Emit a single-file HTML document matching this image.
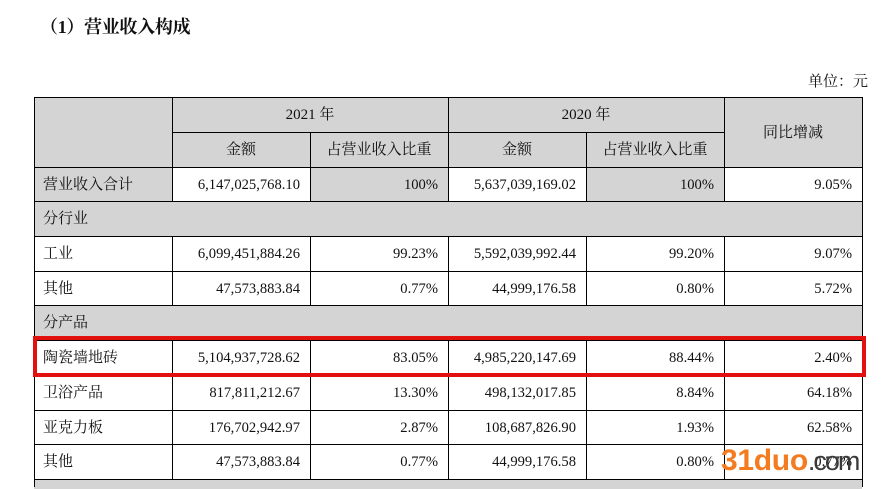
<!DOCTYPE html>
<html><head><meta charset="utf-8">
<style>
html,body{margin:0;padding:0;background:#fff;}
body{width:884px;height:484px;position:relative;overflow:hidden;font-family:"Liberation Serif","Noto Serif CJK SC",serif;color:#111;}
.a{position:absolute;}
.g{position:absolute;background:#d4d4d4;}
.h{position:absolute;height:1px;background:#000;}
.v{position:absolute;width:1px;background:#000;}
.c{position:absolute;display:flex;align-items:center;box-sizing:border-box;font-size:15px;white-space:nowrap;line-height:1;padding-top:2px;}
.l{justify-content:flex-start;padding-left:9px;}
.r{justify-content:flex-end;padding-right:10px;font-size:14.6px;}
.m{justify-content:center;}
</style></head><body>
<div class="a" style="left:40px;top:15px;font-size:18px;font-weight:bold;font-family:'Liberation Serif','Noto Serif CJK SC',serif;line-height:24px;letter-spacing:-0.3px;">（1）营业收入构成</div>
<div class="a" style="left:808px;top:73px;font-size:15px;line-height:18px;">单位：元</div>

<!-- gray backgrounds -->
<div class="g" style="left:34px;top:97px;width:828px;height:70px;"></div>
<div class="g" style="left:34px;top:167px;width:138px;height:34px;"></div>
<div class="g" style="left:310px;top:167px;width:138px;height:34px;"></div>
<div class="g" style="left:586px;top:167px;width:138px;height:34px;"></div>
<div class="g" style="left:34px;top:201px;width:828px;height:35px;"></div>
<div class="g" style="left:34px;top:305px;width:828px;height:35px;"></div>
<div class="g" style="left:34px;top:479px;width:828px;height:10px;"></div>

<!-- horizontal lines -->
<div class="h" style="left:34px;top:97px;width:829px;"></div>
<div class="h" style="left:172px;top:132px;width:552px;"></div>
<div class="h" style="left:34px;top:167px;width:829px;"></div>
<div class="h" style="left:34px;top:201px;width:829px;"></div>
<div class="h" style="left:34px;top:236px;width:829px;"></div>
<div class="h" style="left:34px;top:271px;width:829px;"></div>
<div class="h" style="left:34px;top:305px;width:829px;"></div>
<div class="h" style="left:34px;top:340px;width:829px;"></div>
<div class="h" style="left:34px;top:375px;width:829px;"></div>
<div class="h" style="left:34px;top:410px;width:829px;"></div>
<div class="h" style="left:34px;top:444px;width:829px;"></div>
<div class="h" style="left:34px;top:479px;width:829px;"></div>

<!-- vertical lines -->
<div class="v" style="left:34px;top:97px;height:390px;"></div>
<div class="v" style="left:862px;top:97px;height:390px;"></div>
<div class="v" style="left:172px;top:97px;height:104px;"></div>
<div class="v" style="left:448px;top:97px;height:104px;"></div>
<div class="v" style="left:724px;top:97px;height:104px;"></div>
<div class="v" style="left:310px;top:132px;height:69px;"></div>
<div class="v" style="left:586px;top:132px;height:69px;"></div>
<div class="v" style="left:172px;top:236px;height:69px;"></div>
<div class="v" style="left:310px;top:236px;height:69px;"></div>
<div class="v" style="left:448px;top:236px;height:69px;"></div>
<div class="v" style="left:586px;top:236px;height:69px;"></div>
<div class="v" style="left:724px;top:236px;height:69px;"></div>
<div class="v" style="left:172px;top:340px;height:139px;"></div>
<div class="v" style="left:310px;top:340px;height:139px;"></div>
<div class="v" style="left:448px;top:340px;height:139px;"></div>
<div class="v" style="left:586px;top:340px;height:139px;"></div>
<div class="v" style="left:724px;top:340px;height:139px;"></div>

<!-- header text -->
<div class="c m" style="left:172px;top:97px;width:276px;height:35px;">2021 年</div>
<div class="c m" style="left:448px;top:97px;width:276px;height:35px;">2020 年</div>
<div class="c m" style="left:172px;top:132px;width:138px;height:35px;">金额</div>
<div class="c m" style="left:310px;top:132px;width:138px;height:35px;">占营业收入比重</div>
<div class="c m" style="left:448px;top:132px;width:138px;height:35px;">金额</div>
<div class="c m" style="left:586px;top:132px;width:138px;height:35px;">占营业收入比重</div>
<div class="c m" style="left:724px;top:97px;width:138px;height:70px;">同比增减</div>

<!-- row: total -->
<div class="c l" style="left:34px;top:167px;width:138px;height:34px;">营业收入合计</div>
<div class="c r" style="left:172px;top:167px;width:138px;height:34px;">6,147,025,768.10</div>
<div class="c r" style="left:310px;top:167px;width:138px;height:34px;">100%</div>
<div class="c r" style="left:448px;top:167px;width:138px;height:34px;">5,637,039,169.02</div>
<div class="c r" style="left:586px;top:167px;width:138px;height:34px;">100%</div>
<div class="c r" style="left:724px;top:167px;width:138px;height:34px;">9.05%</div>

<div class="c l" style="left:34px;top:201px;width:300px;height:35px;">分行业</div>

<div class="c l" style="left:34px;top:236px;width:138px;height:35px;">工业</div>
<div class="c r" style="left:172px;top:236px;width:138px;height:35px;">6,099,451,884.26</div>
<div class="c r" style="left:310px;top:236px;width:138px;height:35px;">99.23%</div>
<div class="c r" style="left:448px;top:236px;width:138px;height:35px;">5,592,039,992.44</div>
<div class="c r" style="left:586px;top:236px;width:138px;height:35px;">99.20%</div>
<div class="c r" style="left:724px;top:236px;width:138px;height:35px;">9.07%</div>

<div class="c l" style="left:34px;top:271px;width:138px;height:34px;">其他</div>
<div class="c r" style="left:172px;top:271px;width:138px;height:34px;">47,573,883.84</div>
<div class="c r" style="left:310px;top:271px;width:138px;height:34px;">0.77%</div>
<div class="c r" style="left:448px;top:271px;width:138px;height:34px;">44,999,176.58</div>
<div class="c r" style="left:586px;top:271px;width:138px;height:34px;">0.80%</div>
<div class="c r" style="left:724px;top:271px;width:138px;height:34px;">5.72%</div>

<div class="c l" style="left:34px;top:305px;width:300px;height:35px;">分产品</div>

<div class="c l" style="left:34px;top:340px;width:138px;height:35px;">陶瓷墙地砖</div>
<div class="c r" style="left:172px;top:340px;width:138px;height:35px;">5,104,937,728.62</div>
<div class="c r" style="left:310px;top:340px;width:138px;height:35px;">83.05%</div>
<div class="c r" style="left:448px;top:340px;width:138px;height:35px;">4,985,220,147.69</div>
<div class="c r" style="left:586px;top:340px;width:138px;height:35px;">88.44%</div>
<div class="c r" style="left:724px;top:340px;width:138px;height:35px;">2.40%</div>

<div class="c l" style="left:34px;top:375px;width:138px;height:35px;">卫浴产品</div>
<div class="c r" style="left:172px;top:375px;width:138px;height:35px;">817,811,212.67</div>
<div class="c r" style="left:310px;top:375px;width:138px;height:35px;">13.30%</div>
<div class="c r" style="left:448px;top:375px;width:138px;height:35px;">498,132,017.85</div>
<div class="c r" style="left:586px;top:375px;width:138px;height:35px;">8.84%</div>
<div class="c r" style="left:724px;top:375px;width:138px;height:35px;">64.18%</div>

<div class="c l" style="left:34px;top:410px;width:138px;height:34px;">亚克力板</div>
<div class="c r" style="left:172px;top:410px;width:138px;height:34px;">176,702,942.97</div>
<div class="c r" style="left:310px;top:410px;width:138px;height:34px;">2.87%</div>
<div class="c r" style="left:448px;top:410px;width:138px;height:34px;">108,687,826.90</div>
<div class="c r" style="left:586px;top:410px;width:138px;height:34px;">1.93%</div>
<div class="c r" style="left:724px;top:410px;width:138px;height:34px;">62.58%</div>

<div class="c l" style="left:34px;top:444px;width:138px;height:35px;">其他</div>
<div class="c r" style="left:172px;top:444px;width:138px;height:35px;">47,573,883.84</div>
<div class="c r" style="left:310px;top:444px;width:138px;height:35px;">0.77%</div>
<div class="c r" style="left:448px;top:444px;width:138px;height:35px;">44,999,176.58</div>
<div class="c r" style="left:586px;top:444px;width:138px;height:35px;">0.80%</div>
<div class="c r" style="left:724px;top:444px;width:138px;height:35px;">0.77%</div>

<!-- red highlight box -->
<div class="a" style="left:33px;top:336px;width:833px;height:41px;box-sizing:border-box;border:4px solid #e2100f;"></div>

<!-- watermark -->
<div class="a" style="left:721px;top:445px;font-family:'Liberation Sans',sans-serif;font-weight:bold;font-size:30px;line-height:31px;color:#f47b20;letter-spacing:-0.3px;">31duo<span style="color:#3a3a3a;font-weight:normal;font-size:27px;letter-spacing:-2px;">.com</span></div>
</body></html>
